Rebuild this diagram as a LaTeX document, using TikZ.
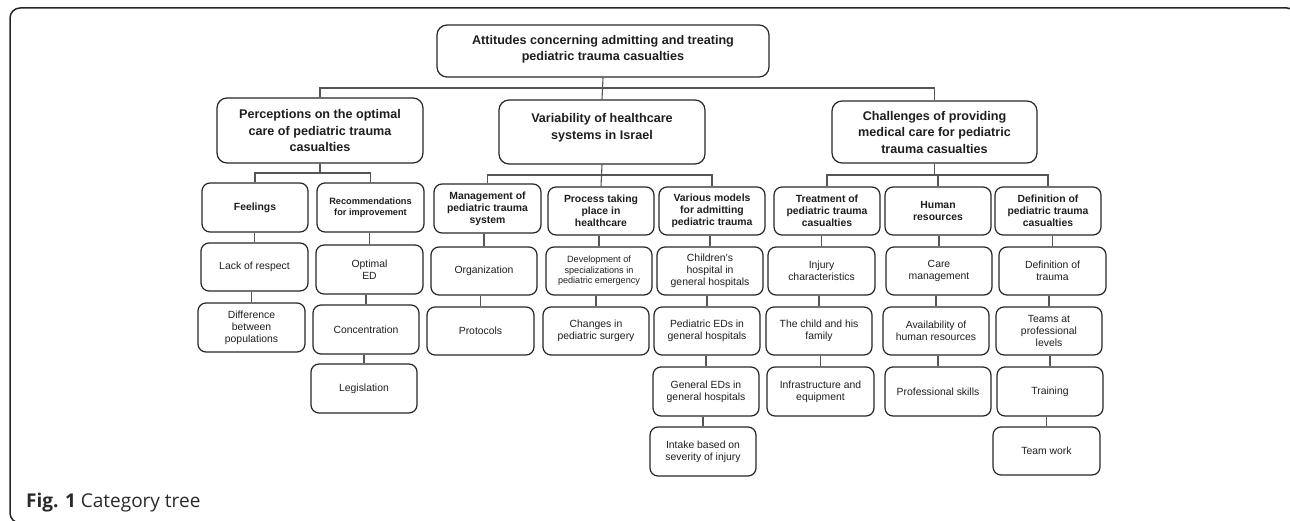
\documentclass[tikz,border=0pt]{standalone}
\usepackage{fontspec}
\setmainfont{Liberation Sans}
\newfontfamily\capfont{Open Sans}
\definecolor{boxc}{HTML}{262626}
\definecolor{linec}{HTML}{555555}
\definecolor{txt}{HTML}{1E1E1E}
\definecolor{capc}{HTML}{2A2A2A}
\tikzset{
  box/.style={draw=boxc, line width=1.2pt, rounded corners=8pt, align=center, inner sep=0pt, text=txt},
  big/.style={font=\fontsize{12.6}{16.5}\selectfont\bfseries, rounded corners=10pt},
  mid/.style={font=\fontsize{10.4}{12}\selectfont\bfseries},
  midsmall/.style={font=\fontsize{9.2}{10.5}\selectfont\bfseries},
  low/.style={font=\fontsize{10.4}{12}\selectfont},
  lowsmall/.style={font=\fontsize{9.1}{10.6}\selectfont},
  link/.style={draw=linec, line width=1.1pt}
}
\newcommand\mybox[7]{%
  \pgfmathsetmacro\bxw{#5-#3}\pgfmathsetmacro\bxh{#6-#4}%
  \pgfmathsetmacro\bxx{(#3+#5)/2}\pgfmathsetmacro\bxy{-(#4+#6)/2}%
  \node[box,#2,minimum width=\bxw pt,minimum height=\bxh pt] (#1) at (\bxx pt,\bxy pt) {#7};}
\begin{document}
\begin{tikzpicture}[x=1pt,y=1pt]
\useasboundingbox (0,0) rectangle (1290,-521);
\begin{scope}
  \clip (0,0) rectangle (1290,-521);
  \draw[draw=boxc, line width=1.5pt, rounded corners=10pt] (10,-8) rectangle (1297,-523);
\end{scope}
% level 0
\mybox{root}{big,text depth=6pt}{437}{25}{769}{77}{Attitudes concerning admitting and treating\\pediatric trauma casualties}
% level 1
\mybox{per}{big}{217}{98}{423}{163}{Perceptions on the optimal\\care of pediatric trauma\\casualties}
\mybox{var}{big,text depth=11.5pt}{499}{100}{705}{164}{Variability of healthcare\\systems in Israel}
\mybox{cha}{big}{832}{101}{1037}{163}{Challenges of providing\\medical care for pediatric\\trauma casualties}
% level 2
\mybox{fe}{mid}{202}{183}{308}{232}{Feelings}
\mybox{re}{midsmall}{317}{183}{424}{232}{Recommendations\\for improvement}
\mybox{ma}{mid}{434}{184}{541}{233}{Management of\\pediatric trauma\\system}
\mybox{pr}{mid}{548}{187}{654}{235}{Process taking\\place in\\healthcare}
\mybox{vm}{mid}{659}{187}{765}{235}{Various models\\for admitting\\pediatric trauma}
\mybox{tr}{mid}{774}{187}{880}{235}{Treatment of\\pediatric trauma\\casualties}
\mybox{hu}{mid}{885}{187}{991}{235}{Human\\resources}
\mybox{df}{mid}{995}{187}{1101}{235}{Definition of\\pediatric trauma\\casualties}
% level 3
\mybox{la}{low}{201}{243}{308}{291}{Lack of respect}
\mybox{di}{low}{198}{303}{305}{352}{Difference\\between\\populations}
\mybox{op}{low}{316}{245}{423}{294}{Optimal\\ED}
\mybox{co}{low}{313}{305}{419}{354}{Concentration}
\mybox{le}{low}{311}{364}{417}{413}{Legislation}
\mybox{or}{low}{431}{247}{537}{295}{Organization}
\mybox{pt}{low}{427}{307}{534}{355}{Protocols}
\mybox{de}{lowsmall}{546}{247}{652}{295}{Development of\\specializations in\\pediatric emergency}
\mybox{ch}{low}{543}{307}{649}{355}{Changes in\\pediatric surgery}
\mybox{ci}{low}{657}{247}{763}{295}{Children's\\hospital in\\general hospitals}
\mybox{pe}{low}{654}{307}{760}{355}{Pediatric EDs in\\general hospitals}
\mybox{ge}{low}{653}{367}{759}{416}{General EDs in\\general hospitals}
\mybox{in}{low}{650}{427}{756}{476}{Intake based on\\severity of injury}
\mybox{ij}{low}{768}{247}{875}{295}{Injury\\characteristics}
\mybox{tc}{low}{766}{307}{872}{355}{The child and his\\family}
\mybox{if}{low}{767}{367}{874}{416}{Infrastructure and\\equipment}
\mybox{ca}{low}{886}{247}{992}{295}{Care\\management}
\mybox{av}{low}{883}{307}{989}{355}{Availability of\\human resources}
\mybox{ps}{low}{885}{367}{991}{416}{Professional skills}
\mybox{dt}{low}{999}{247}{1106}{295}{Definition of\\trauma}
\mybox{te}{low}{996}{307}{1102}{355}{Teams at\\professional\\levels}
\mybox{tn}{low}{997}{367}{1103}{416}{Training}
\mybox{tw}{low}{993}{427}{1100}{475}{Team work}
% buses
\coordinate (b0) at (603,-88);
\coordinate (b1) at (320,-173);
\coordinate (b2) at (602,-175);
\coordinate (b3) at (937,-175);
\draw[link] (root.south) -- (var.north);
\draw[link] (per.north) |- (b0) -| (cha.north);
\draw[link] (per.south) -- (per.south |- b1);
\draw[link] (fe.north) |- (b1) -| (re.north);
\draw[link] (var.south) -- (pr.north);
\draw[link] (ma.north) |- (b2) -| (vm.north);
\draw[link] (cha.south) -- (cha.south |- b3);
\draw[link] (tr.north) |- (b3) -| (df.north);
\draw[link] (hu.north) -- (hu.north |- b3);
% vertical chains
\foreach \p/\c in {fe/la, la/di, re/op, op/co, co/le, ma/or, or/pt, pr/de, de/ch,
  vm/ci, ci/pe, pe/ge, ge/in, tr/ij, ij/tc, tc/if, hu/ca, ca/av, av/ps,
  df/dt, dt/te, te/tn, tn/tw}
  \draw[link] (\c.north) -- (\c.north |- \p.south);
% caption
\node[anchor=base west, font=\capfont\fontsize{19}{22}\selectfont, text=capc, inner sep=0pt] (cap) at (26,-507) {\textbf{Fig. 1} Category tree};
\end{tikzpicture}
\end{document}
